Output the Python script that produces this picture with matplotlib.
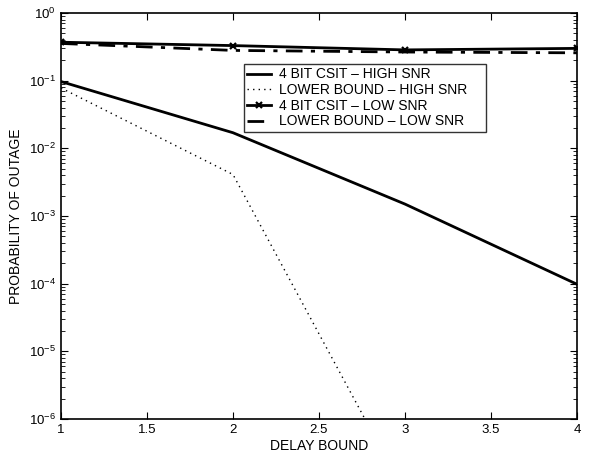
import matplotlib
matplotlib.use("Agg")
import matplotlib.pyplot as plt
from matplotlib.ticker import LogLocator, NullFormatter, FixedLocator

plt.rcParams['font.family'] = ['Liberation Sans', 'DejaVu Sans']

delay = [1, 2, 3, 4]
csit_high = [0.097, 0.017, 0.0015, 9.8e-5]
lb_high = [0.078, 0.0041, 8e-8, 1e-10]
csit_low = [0.37, 0.33, 0.285, 0.30]
lb_low = [0.355, 0.28, 0.265, 0.258]

labels = ["4 BIT CSIT \u2013 HIGH SNR", "LOWER BOUND \u2013 HIGH SNR",
          "4 BIT CSIT \u2013 LOW SNR", "LOWER BOUND \u2013 LOW SNR"]
xticks = [1, 1.5, 2, 2.5, 3, 3.5, 4]
xticklabels = ["1", "1.5", "2", "2.5", "3", "3.5", "4"]
yticks = [1e-6, 1e-5, 1e-4, 1e-3, 1e-2, 1e-1, 1e0]

fig = plt.figure(figsize=(5.9, 4.59), dpi=100)
ax = fig.add_axes([61/590, 1 - 419/459, (577-61)/590, (419-13)/459])

ax.plot(delay, csit_high, color='black', lw=2, label=labels[0])
ax.plot(delay, lb_high, color='black', lw=1, linestyle=(0, (1, 3)), label=labels[1])
ax.plot(delay, csit_low, color='black', lw=2, marker='x', ms=5, mew=1.6, label=labels[2])
ax.plot(delay, lb_low, color='black', lw=2, linestyle=(0, (6, 3, 1.5, 3)), label=labels[3])

ax.set_yscale('log')
ax.set_xlim(1, 4)
ax.set_ylim(1e-6, 1)
ax.set_xticks(xticks)
ax.set_xticklabels(xticklabels)
ax.set_yticks(yticks)
ax.yaxis.set_minor_locator(LogLocator(base=10, subs=range(2, 10), numticks=100))
ax.yaxis.set_minor_formatter(NullFormatter())
ax.tick_params(which='both', direction='in', top=True, right=True, labelsize=9.5)
ax.tick_params(which='major', length=5)
ax.tick_params(which='minor', length=3)
for s in ax.spines.values():
    s.set_linewidth(1.2)

ax.set_xlabel("DELAY BOUND", fontsize=10, labelpad=2)
ax.set_ylabel("PROBABILITY OF OUTAGE", fontsize=10)

x0 = (244-61)/516
w = (486-244)/516
ytop = (419-64)/406
leg = ax.legend(loc='upper left', bbox_to_anchor=(x0, ytop - 0.2, w, 0.2), mode='expand',
                fontsize=10, frameon=True, fancybox=False, edgecolor='black',
                borderpad=0.25, labelspacing=0.12, handlelength=1.7, handletextpad=0.6,
                borderaxespad=0)
leg.get_frame().set_linewidth(1)

fig.savefig("out.png", dpi=100)
